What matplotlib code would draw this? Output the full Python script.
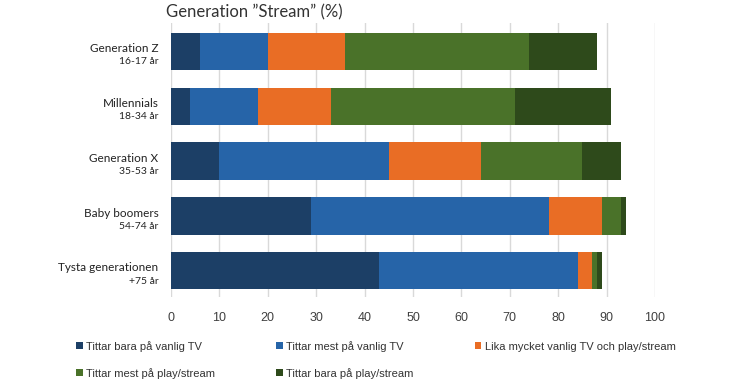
import matplotlib
matplotlib.use("Agg")
import matplotlib.pyplot as plt
from matplotlib.patches import Patch
import numpy as np

groups = ["Generation Z", "Millennials", "Generation X", "Baby boomers", "Tysta generationen"]
ages = ["16-17 år", "18-34 år", "35-53 år", "54-74 år", "+75 år"]
series = ["Tittar bara på vanlig TV", "Tittar mest på vanlig TV",
          "Lika mycket vanlig TV och play/stream", "Tittar mest på play/stream",
          "Tittar bara på play/stream"]
bara_tv = [6, 4, 10, 29, 43]
mest_tv = [14, 14, 35, 49, 41]
lika = [16, 15, 19, 11, 3]
mest_play = [38, 38, 21, 4, 1]
bara_play = [14, 20, 8, 1, 1]
colors = ["#1c3f66", "#2664a8", "#e96d25", "#4a7229", "#2e4a1b"]
xticks = [0, 10, 20, 30, 40, 50, 60, 70, 80, 90, 100]

narrow = ["Liberation Sans Narrow", "Liberation Sans", "DejaVu Sans"]
geo = ["Lato", "DejaVu Sans"]

fig = plt.figure(figsize=(7.5, 3.84), dpi=100)
ax = fig.add_axes([171/750, 1-297/384, (655-171)/750, (297-23)/384])

y = np.arange(len(groups))
left = np.zeros(len(groups))
handles = []
for vals, c, name in zip([bara_tv, mest_tv, lika, mest_play, bara_play], colors, series):
    ax.barh(y, vals, left=left, height=0.68, color=c, label=name, zorder=3)
    left += np.array(vals)
    handles.append(Patch(facecolor=c, label=name))

ax.set_xlim(0, 100)
ax.set_ylim(4.48, -0.52)
ax.set_xticks(xticks)
ax.set_xticklabels([str(t) for t in xticks], family=narrow, fontsize=9, color="#404040")
ax.tick_params(axis="x", length=0, pad=11)
ax.set_yticks([])
ax.grid(axis="x", color="#d9d9d9", linewidth=1, zorder=0)
for s in ax.spines.values():
    s.set_visible(False)

for i, (g, a) in enumerate(zip(groups, ages)):
    ax.annotate(g, xy=(0, i), xycoords=("axes fraction", "data"), xytext=(-9, 2),
                textcoords="offset points", ha="right", va="center",
                family=geo, fontsize=8.5, color="#222222")
    ax.annotate(a, xy=(0, i), xycoords=("axes fraction", "data"), xytext=(-9, -7.5),
                textcoords="offset points", ha="right", va="center",
                family=geo, fontsize=7.5, color="#222222")

fig.text(166/750, 1-12/384, "Generation ”Stream” (%)", family=geo, fontsize=12,
         color="#333333", ha="left", va="center")

order = [0, 3, 1, 4, 2]
leg = fig.legend([handles[i] for i in order], [series[i] for i in order],
                 loc="upper left", bbox_to_anchor=(66/750, 1-331/384), ncol=3,
                 frameon=False, prop={"family": narrow, "size": 8},
                 handlelength=0.6, handleheight=0.6, handletextpad=0.3,
                 columnspacing=5.5, labelspacing=1.45)
for t in leg.get_texts():
    t.set_color("#333333")

fig.savefig("out.png", dpi=100)
